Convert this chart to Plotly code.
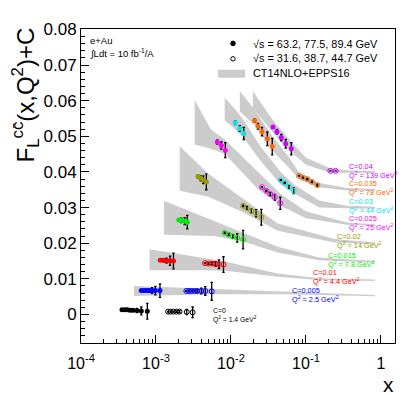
import plotly.graph_objects as go

# ---- data (x, F_L^cc + C, stat. error) ----
# Q2 = 1.4 GeV2, C = 0
q1_fx = [3.52e-4, 3.83e-4, 4.14e-4, 4.5e-4, 4.93e-4, 5.58e-4, 6.37e-4, 7.66e-4]
q1_fy = [0.0013, 0.0013, 0.0013, 0.0012, 0.0012, 0.0011, 0.0010, 0.0009]
q1_fe = [0.0001, 0.0001, 0.0002, 0.0003, 0.0004, 0.0006, 0.0011, 0.0022]
q1_ox = [1.45e-3, 1.57e-3, 1.71e-3, 1.88e-3, 2.06e-3, 2.57e-3, 3.08e-3]
q1_oy = [0.0008, 0.0008, 0.0008, 0.0008, 0.0008, 0.0007, 0.0006]
q1_oe = [0.0001, 0.0001, 0.0001, 0.0002, 0.0003, 0.0007, 0.0015]

# Q2 = 2.5 GeV2, C = 0.005
q2_fx = [6.37e-4, 6.92e-4, 7.52e-4, 8.15e-4, 8.85e-4, 9.8e-4, 1.13e-3]
q2_fy = [0.0067, 0.0067, 0.0067, 0.0067, 0.0067, 0.0067, 0.0067]
q2_fe = [0.0002, 0.0002, 0.0003, 0.0004, 0.0008, 0.0012, 0.0019]
q2_ox = [2.54e-3, 2.75e-3, 2.99e-3, 3.28e-3, 3.56e-3, 4.02e-3, 4.54e-3, 5.53e-3]
q2_oy = [0.0066, 0.0066, 0.0066, 0.0066, 0.0066, 0.0066, 0.0066, 0.0065]
q2_oe = [0.0001, 0.0001, 0.0002, 0.0002, 0.0004, 0.0008, 0.0012, 0.0025]

# Q2 = 4.4 GeV2, C = 0.01
q4_fx = [1.14e-3, 1.26e-3, 1.38e-3, 1.54e-3, 1.71e-3]
q4_fy = [0.0152, 0.0152, 0.0151, 0.0151, 0.0150]
q4_fe = [0.0002, 0.0004, 0.0007, 0.0013, 0.0022]
q4_ox = [4.5e-3, 5.01e-3, 5.58e-3, 6.21e-3, 6.92e-3, 7.94e-3]
q4_oy = [0.0144, 0.0143, 0.0143, 0.0142, 0.0141, 0.0140]
q4_oe = [0.0001, 0.0002, 0.0003, 0.0006, 0.0012, 0.0022]

# Q2 = 7.8 GeV2, C = 0.015
q8_fx = [2.01e-3, 2.17e-3, 2.41e-3, 2.61e-3]
q8_fy = [0.0265, 0.0264, 0.0262, 0.0259]
q8_fe = [0.0003, 0.0006, 0.0010, 0.0019]
q8_ox = [8.24e-3, 9.31e-3, 1.06e-2, 1.21e-2, 1.45e-2]
q8_oy = [0.0229, 0.0224, 0.0219, 0.0215, 0.0210]
q8_oe = [0.0002, 0.0003, 0.0005, 0.0012, 0.0026]

# Q2 = 14 GeV2, C = 0.02
q14_fx = [3.63e-3, 3.94e-3, 4.28e-3, 4.69e-3]
q14_fy = [0.0387, 0.0382, 0.0378, 0.0372]
q14_fe = [0.0004, 0.0007, 0.0011, 0.0022]
q14_ox = [1.45e-2, 1.63e-2, 1.87e-2, 2.16e-2, 2.54e-2]
q14_oy = [0.0305, 0.0299, 0.0291, 0.0284, 0.0273]
q14_oe = [0.0002, 0.0004, 0.0006, 0.0010, 0.0022]

# Q2 = 25 GeV2, C = 0.025
q25_fx = [6.56e-3, 7.43e-3, 8.4e-3]
q25_fy = [0.0484, 0.0474, 0.0461]
q25_fe = [0.0006, 0.0010, 0.0021]
q25_ox = [2.59e-2, 2.96e-2, 3.34e-2, 3.83e-2, 4.54e-2]
q25_oy = [0.0357, 0.0347, 0.0338, 0.0329, 0.0312]
q25_oe = [0.0001, 0.0002, 0.0004, 0.0008, 0.0017]

# Q2 = 44 GeV2, C = 0.03
q44_fx = [1.14e-2, 1.31e-2, 1.48e-2]
q44_fy = [0.0538, 0.0522, 0.0508]
q44_fe = [0.0005, 0.0008, 0.0017]
q44_ox = [4.61e-2, 5.2e-2, 5.93e-2, 6.86e-2]
q44_oy = [0.0377, 0.0369, 0.0358, 0.0347]
q44_oe = [0.0001, 0.0002, 0.0004, 0.0008]

# Q2 = 78 GeV2, C = 0.035
q78_fx = [2.07e-2, 2.29e-2, 2.59e-2, 3.05e-2, 3.55e-2]
q78_fy = [0.0544, 0.0528, 0.0513, 0.0493, 0.0471]
q78_fe = [0.0005, 0.0008, 0.0012, 0.0019, 0.0023]
q78_ox = [0.0807, 0.0912, 0.104, 0.120, 0.1416]
q78_oy = [0.0389, 0.0384, 0.0380, 0.0372, 0.0363]
q78_oe = [0.0001, 0.0001, 0.0002, 0.0002, 0.0003]

# Q2 = 139 GeV2, C = 0.04
q139_fx = [3.63e-2, 4.1e-2, 4.69e-2, 5.36e-2, 6.37e-2]
q139_fy = [0.0526, 0.0513, 0.0496, 0.0479, 0.0465]
q139_fe = [0.0004, 0.0006, 0.0009, 0.0012, 0.0017]
q139_ox = [0.211, 0.249]
q139_oy = [0.0403, 0.0403]
q139_oe = [0.0, 0.0]

# CT14NLO+EPPS16 bands (x, upper, lower)
b2_x = [5.1e-4, 1.5e-3, 5.4e-3, 0.0575, 0.83]
b2_hi = [0.0080, 0.0076, 0.0071, 0.0064, 0.0055]
b2_lo = [0.0052, 0.0054, 0.0057, 0.0057, 0.0051]
b4_x = [8.2e-4, 4.5e-3, 8.3e-3, 0.042, 0.15, 0.83]
b4_hi = [0.0183, 0.0157, 0.0149, 0.0115, 0.0102, 0.0098]
b4_lo = [0.0124, 0.0124, 0.0123, 0.0106, 0.0097, 0.0094]
b8_x = [1.28e-3, 6e-3, 0.0145, 0.042, 0.15, 0.83]
b8_hi = [0.0319, 0.0262, 0.0230, 0.0190, 0.0160, 0.0150]
b8_lo = [0.0224, 0.0220, 0.0205, 0.0174, 0.0152, 0.0146]
b14_x = [2.07e-3, 5e-3, 0.0145, 0.042, 0.24, 0.83]
b14_hi = [0.0472, 0.0395, 0.0325, 0.0255, 0.0212, 0.0202]
b14_lo = [0.0347, 0.0330, 0.0287, 0.0235, 0.0202, 0.0197]
b25_x = [3.28e-3, 5.4e-3, 8.3e-3, 0.0228, 0.046, 0.1, 0.35, 0.83]
b25_hi = [0.0602, 0.0519, 0.0490, 0.0400, 0.0338, 0.0290, 0.0258, 0.0253]
b25_lo = [0.0477, 0.0465, 0.0450, 0.0352, 0.0305, 0.0270, 0.0252, 0.0248]
b44_x = [8.24e-3, 0.0114, 0.0148, 0.025, 0.046, 0.069, 0.15, 0.35, 0.83]
b44_hi = [0.0608, 0.0575, 0.0545, 0.0470, 0.0400, 0.0365, 0.0320, 0.0305, 0.0302]
b44_lo = [0.0545, 0.0520, 0.0495, 0.0430, 0.0365, 0.0340, 0.0300, 0.0298, 0.0297]
b78_x = [0.0131, 0.0207, 0.0355, 0.06, 0.08, 0.14, 0.35, 0.83]
b78_hi = [0.0626, 0.0575, 0.0500, 0.0440, 0.0400, 0.0370, 0.0355, 0.0352]
b78_lo = [0.0570, 0.0530, 0.0460, 0.0410, 0.0380, 0.0358, 0.0348, 0.0347]
b139_x = [0.0196, 0.0363, 0.0636, 0.1, 0.21, 0.35, 0.83]
b139_hi = [0.0626, 0.0545, 0.0485, 0.0440, 0.0410, 0.0405, 0.0402]
b139_lo = [0.0580, 0.0510, 0.0455, 0.0420, 0.0398, 0.0398, 0.0397]

labels = ["C=0<br>Q<sup>2</sup> = 1.4 GeV<sup>2</sup>",
          "C=0.005<br>Q<sup>2</sup> = 2.5 GeV<sup>2</sup>",
          "C=0.01<br>Q<sup>2</sup> = 4.4 GeV<sup>2</sup>",
          "C=0.015<br>Q<sup>2</sup> = 7.8 GeV<sup>2</sup>",
          "C=0.02<br>Q<sup>2</sup> = 14 GeV<sup>2</sup>",
          "C=0.025<br>Q<sup>2</sup> = 25 GeV<sup>2</sup>",
          "C=0.03<br>Q<sup>2</sup> = 44 GeV<sup>2</sup>",
          "C=0.035<br>Q<sup>2</sup> = 78 GeV<sup>2</sup>",
          "C=0.04<br>Q<sup>2</sup> = 139 GeV<sup>2</sup>"]
colors = ["#000000", "#0000ff", "#ff0000", "#00ee00", "#999900",
          "#ff00ff", "#00e5ee", "#ff6600", "#cc00ff"]

series = [
    (q1_fx, q1_fy, q1_fe, q1_ox, q1_oy, q1_oe, None),
    (q2_fx, q2_fy, q2_fe, q2_ox, q2_oy, q2_oe, (b2_x, b2_hi, b2_lo)),
    (q4_fx, q4_fy, q4_fe, q4_ox, q4_oy, q4_oe, (b4_x, b4_hi, b4_lo)),
    (q8_fx, q8_fy, q8_fe, q8_ox, q8_oy, q8_oe, (b8_x, b8_hi, b8_lo)),
    (q14_fx, q14_fy, q14_fe, q14_ox, q14_oy, q14_oe, (b14_x, b14_hi, b14_lo)),
    (q25_fx, q25_fy, q25_fe, q25_ox, q25_oy, q25_oe, (b25_x, b25_hi, b25_lo)),
    (q44_fx, q44_fy, q44_fe, q44_ox, q44_oy, q44_oe, (b44_x, b44_hi, b44_lo)),
    (q78_fx, q78_fy, q78_fe, q78_ox, q78_oy, q78_oe, (b78_x, b78_hi, b78_lo)),
    (q139_fx, q139_fy, q139_fe, q139_ox, q139_oy, q139_oe, (b139_x, b139_hi, b139_lo)),
]

# pixel layout of the 407x395 page
W, H = 407, 395
L, R, T, B = 73, 387, 19, 335
FONT = "Liberation Sans, Arial, sans-serif"
BAND = "#cccccc"


def paper(px, py):
    return (px - L) / (R - L), (B - py) / (B - T)


fig = go.Figure()

# bands first so the points sit on top
for s in series:
    if s[6] is None:
        continue
    bx, hi, lo = s[6]
    fig.add_trace(go.Scatter(
        x=bx + bx[::-1], y=hi + lo[::-1], mode="lines", fill="toself",
        fillcolor=BAND, line=dict(width=0), hoverinfo="skip", showlegend=False))

for s, col in zip(series, colors):
    fx, fy, fe, ox, oy, oe, _ = s
    err = dict(type="data", color="black", thickness=1.3, width=1.2)
    fig.add_trace(go.Scatter(
        x=fx, y=fy, mode="markers", error_y=dict(err, array=fe),
        marker=dict(symbol="circle", size=5, color=col), showlegend=False))
    fig.add_trace(go.Scatter(
        x=ox, y=oy, mode="markers", error_y=dict(err, array=oe),
        marker=dict(symbol="circle-open", size=5, color=col, line=dict(width=1)),
        showlegend=False))

# curve labels (left edge px, centre py)
label_pos = [(203, 307), (282, 287), (303, 269), (318, 251), (327, 232.5),
             (339, 214.5), (339, 197), (339, 179), (339, 161.7)]
for txt, col, (px, py) in zip(labels, colors, label_pos):
    ax_, ay_ = paper(px, py)
    fig.add_annotation(x=ax_, y=ay_, xref="paper", yref="paper", text=txt,
                       showarrow=False, xanchor="left", yanchor="middle", align="left",
                       font=dict(family=FONT, size=7.3 if px > 210 else 6.8, color=col))

# legend drawn by hand
lx, ly1 = paper(225, 33.5)
_, ly2 = paper(225, 49)
fig.add_shape(type="circle", xref="paper", yref="paper", xsizemode="pixel", ysizemode="pixel",
              xanchor=lx, yanchor=ly1, x0=-2.3, x1=2.3, y0=-2.3, y1=2.3,
              fillcolor="black", line=dict(color="black", width=1))
fig.add_shape(type="circle", xref="paper", yref="paper", xsizemode="pixel", ysizemode="pixel",
              xanchor=lx, yanchor=ly2, x0=-2.2, x1=2.2, y0=-2.2, y1=2.2,
              fillcolor="white", line=dict(color="black", width=1))
rx0, ry0 = paper(210, 68)
rx1, ry1 = paper(237, 60)
fig.add_shape(type="rect", xref="paper", yref="paper", x0=rx0, x1=rx1, y0=ry0, y1=ry1,
              fillcolor=BAND, line=dict(width=0))
for txt, py in [("√s = 63.2, 77.5, 89.4 GeV", 34), ("√s = 31.6, 38.7, 44.7 GeV", 48.5),
                ("CT14NLO+EPPS16", 63)]:
    tx, ty = paper(243, py)
    fig.add_annotation(x=tx, y=ty, xref="paper", yref="paper", text=txt, showarrow=False,
                       xanchor="left", yanchor="middle",
                       font=dict(family=FONT, size=10.9, color="black"))

for txt, py in [("e+Au", 30.5), ("∫Ldt = 10 fb<sup>-1</sup>/A", 43.5)]:
    tx, ty = paper(80, py)
    fig.add_annotation(x=tx, y=ty, xref="paper", yref="paper", text=txt, showarrow=False,
                       xanchor="left", yanchor="middle",
                       font=dict(family=FONT, size=9.5, color="black"))

# axis titles
tx, ty = paper(17, 16)
fig.add_annotation(x=tx, y=ty, xref="paper", yref="paper", textangle=-90,
                   text="F<sub>L</sub><sup>cc\u0304</sup>(x,Q<sup>2</sup>)+C",
                   showarrow=False, xanchor="center", yanchor="top",
                   font=dict(family=FONT, size=24, color="black"))
tx, ty = paper(380, 377)
fig.add_annotation(x=tx, y=ty, xref="paper", yref="paper", text="x", showarrow=False,
                   xanchor="center", yanchor="middle",
                   font=dict(family=FONT, size=21, color="black"))

minor_x = [k * 10.0 ** e for e in range(-4, 1) for k in range(2, 10)]
fig.update_xaxes(type="log", range=[-4, 0.187], showline=True, linecolor="black",
                 linewidth=1, mirror=True, showgrid=False, zeroline=False,
                 ticks="inside", ticklen=8, tickcolor="black",
                 tickvals=[1e-4, 1e-3, 1e-2, 1e-1, 1],
                 ticktext=["10<sup>-4</sup>", "10<sup>-3</sup>", "10<sup>-2</sup>",
                           "10<sup>-1</sup>", "1"],
                 ticklabelstandoff=6,
                 minor=dict(tickvals=minor_x, ticks="inside", ticklen=4,
                            tickcolor="black", showgrid=False),
                 tickfont=dict(family=FONT, size=16, color="black"))
fig.update_yaxes(range=[-0.008, 0.0801], showline=True, linecolor="black",
                 linewidth=1, mirror=True, showgrid=False, zeroline=False,
                 ticks="inside", ticklen=8, tickcolor="black",
                 tickvals=[0, 0.01, 0.02, 0.03, 0.04, 0.05, 0.06, 0.07, 0.08],
                 ticktext=["0", "0.01", "0.02", "0.03", "0.04", "0.05", "0.06", "0.07", "0.08"],
                 minor=dict(dtick=0.002, tick0=0, ticks="inside", ticklen=4,
                            tickcolor="black", showgrid=False),
                 tickfont=dict(family=FONT, size=17, color="black"))

fig.update_layout(width=W, height=H, margin=dict(l=L, r=W - R, t=T, b=H - B),
                  paper_bgcolor="white", plot_bgcolor="white", showlegend=False)

fig.write_html("out.html")
